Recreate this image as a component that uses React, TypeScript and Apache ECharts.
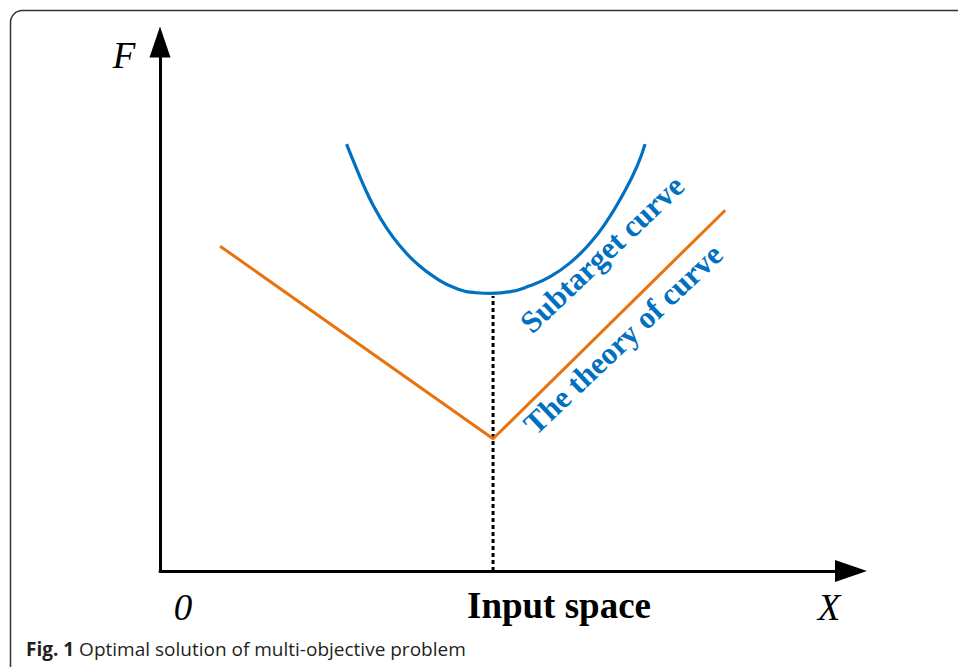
import React, { useEffect, useRef } from "react";
import * as echarts from "echarts";

// Subtarget curve, sampled along the input space
const subtargetX = [27.0, 28.2, 29.4, 30.9, 32.8, 34.7, 37.1, 40.0, 42.9, 45.8, 48.0, 50.7, 53.5, 56.4, 59.3, 62.2, 64.6, 67.0, 69.0, 70.2];
const subtargetY = [80.7, 76.8, 73.1, 69.0, 64.8, 61.5, 58.2, 55.3, 53.4, 52.6, 52.5, 52.8, 53.9, 55.6, 58.2, 61.9, 66.0, 71.2, 76.4, 80.7];

// Theoretical curve (V shape)
const theoryX = [8.7, 48.2, 81.8];
const theoryY = [61.4, 25.0, 68.2];

// Optimum position marked with a dotted drop line
const optimumX = 48.2;
const optimumY = [0, 52.0];

const axisNames = { y: "F", x: "X", origin: "0", input: "Input space" };
const labels = { subtarget: "Subtarget curve", theory: "The theory of curve" };
const captionBold = "Fig. 1";
const captionText = " Optimal solution of multi-objective problem";

const BLUE = "#0070C0";
const ORANGE = "#E8720C";
const SERIF = '"Liberation Serif", "Times New Roman", serif';

export default function App() {
  const ref = useRef<HTMLDivElement>(null);

  useEffect(() => {
    if (!ref.current) return;
    const chart = echarts.init(ref.current, null, { renderer: "svg" });

    const axisCommon = {
      type: "value" as const,
      min: 0,
      max: 100,
      axisTick: { show: false },
      axisLabel: { show: false },
      splitLine: { show: false },
    };

    const deg = Math.PI / 180;

    chart.setOption({
      animation: false,
      backgroundColor: "#ffffff",
      grid: { left: 160, right: 107, top: 42, bottom: 96 },
      xAxis: {
        ...axisCommon,
        axisLine: {
          show: true,
          symbol: ["none", "triangle"],
          symbolSize: [22, 32],
          lineStyle: { color: "#000", width: 3 },
        },
      },
      yAxis: {
        ...axisCommon,
        axisLine: {
          show: true,
          symbol: ["none", "triangle"],
          symbolSize: [21, 31],
          lineStyle: { color: "#000", width: 3 },
        },
      },
      series: [
        {
          type: "line",
          data: optimumY.map((y) => [optimumX, y]),
          showSymbol: false,
          lineStyle: { color: "#000", width: 3, type: [4, 3] },
          z: 1,
        },
        {
          type: "line",
          data: theoryX.map((x, i) => [x, theoryY[i]]),
          showSymbol: false,
          lineStyle: { color: ORANGE, width: 3 },
          z: 2,
        },
        {
          type: "line",
          data: subtargetX.map((x, i) => [x, subtargetY[i]]),
          smooth: 0.5,
          showSymbol: false,
          lineStyle: { color: BLUE, width: 3.2 },
          z: 3,
        },
      ],
      graphic: [
        {
          type: "rect",
          shape: { x: 10.5, y: 10.5, width: 980, height: 700, r: 12 },
          style: { fill: "none", stroke: "#333", lineWidth: 1.5 },
          silent: true,
        },
        {
          type: "text",
          x: 124,
          y: 55,
          style: { text: axisNames.y, font: `italic 37px ${SERIF}`, fill: "#000", align: "center", verticalAlign: "middle" },
        },
        {
          type: "text",
          x: 183,
          y: 607,
          style: { text: axisNames.origin, font: `italic 37px ${SERIF}`, fill: "#000", align: "center", verticalAlign: "middle" },
        },
        {
          type: "text",
          x: 829,
          y: 607,
          style: { text: axisNames.x, font: `italic 37px ${SERIF}`, fill: "#000", align: "center", verticalAlign: "middle" },
        },
        {
          type: "text",
          x: 559,
          y: 605,
          style: { text: axisNames.input, font: `bold 37px ${SERIF}`, fill: "#000", align: "center", verticalAlign: "middle" },
        },
        {
          type: "text",
          x: 602,
          y: 254,
          rotation: 43.5 * deg,
          style: { text: labels.subtarget, font: `bold 31px ${SERIF}`, fill: BLUE, align: "center", verticalAlign: "middle" },
        },
        {
          type: "text",
          x: 623,
          y: 339,
          rotation: 43.5 * deg,
          style: { text: labels.theory, font: `bold 31px ${SERIF}`, fill: BLUE, align: "center", verticalAlign: "middle" },
        },
        {
          type: "text",
          x: 26,
          y: 649,
          style: {
            text: `{b|${captionBold}}{r|${captionText}}`,
            verticalAlign: "middle",
            rich: {
              b: { font: 'bold 19px "Open Sans", sans-serif', fill: "#231F20" },
              r: { font: '19px "Open Sans", sans-serif', fill: "#231F20" },
            },
          },
        },
      ],
    });

    return () => chart.dispose();
  }, []);

  return (
    <div
      ref={ref}
      style={{ position: "absolute", left: 0, top: 0, width: 958, height: 667 }}
    />
  );
}
